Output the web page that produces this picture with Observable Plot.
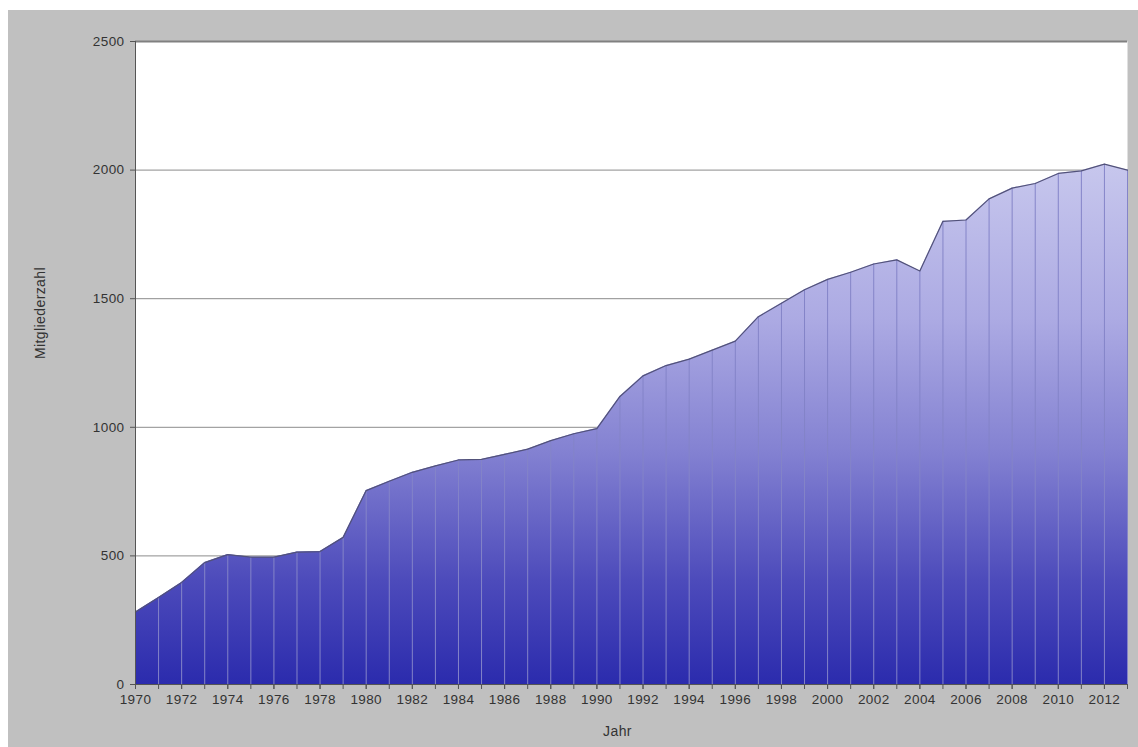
<!DOCTYPE html>
<html>
<head>
<meta charset="utf-8">
<script src="https://cdn.jsdelivr.net/npm/d3@7"></script>
<script src="https://cdn.jsdelivr.net/npm/@observablehq/plot@0.6"></script>
<style>
  html, body { margin: 0; padding: 0; background: #ffffff; }
  #wrap { padding: 10px 0 0 8px; width: 1130px; height: 737px; }
  svg { display: block; }
</style>
</head>
<body>
<div id="wrap"></div>
<script>
const years = [1970,1971,1972,1973,1974,1975,1976,1977,1978,1979,
               1980,1981,1982,1983,1984,1985,1986,1987,1988,1989,
               1990,1991,1992,1993,1994,1995,1996,1997,1998,1999,
               2000,2001,2002,2003,2004,2005,2006,2007,2008,2009,
               2010,2011,2012,2013];
const members = [282,338,397,474,505,495,495,515,517,572,
                 754,790,825,850,873,875,895,915,948,975,
                 995,1120,1200,1240,1265,1300,1335,1430,1482,1535,
                 1575,1603,1635,1651,1608,1801,1806,1888,1930,1948,
                 1987,1997,2023,2000];
const yTicks = [0,500,1000,1500,2000,2500];
const xLabelYears = [1970,1972,1974,1976,1978,1980,1982,1984,1986,1988,1990,
                     1992,1994,1996,1998,2000,2002,2004,2006,2008,2010,2012];
const yTitle = "Mitgliederzahl";
const xTitle = "Jahr";

const data = years.map((year, i) => ({year, n: members[i]}));

const chart = Plot.plot({
  width: 1130,
  height: 737,
  marginLeft: 127,
  marginRight: 11,
  marginTop: 31,
  marginBottom: 63,
  style: {background: "#c0c0c0", fontFamily: "Liberation Sans, Arial, sans-serif", fontSize: "13.5px", color: "#333333", letterSpacing: "0.4px"},
  x: {domain: [1970, 2013]},
  y: {domain: [0, 2500]},
  marks: [
    Plot.frame({fill: "#ffffff", stroke: null}),
    Plot.gridY(yTicks, {stroke: "#8c8c8c", strokeOpacity: 1, strokeWidth: 1}),
    Plot.ruleY([2500], {stroke: "#808080", strokeWidth: 2}),
    Plot.areaY(data, {x: "year", y: "n", fill: "url(#memberGrad)"}),
    Plot.ruleX(data, {x: "year", y1: 0, y2: "n", stroke: "#8484c8", strokeWidth: 1}),
    Plot.lineY(data, {x: "year", y: "n", stroke: "#52527a", strokeWidth: 1.2}),
    Plot.ruleY([0], {stroke: "#555555", strokeWidth: 1}),
    Plot.ruleX([1970], {stroke: "#555555", strokeWidth: 1}),
    Plot.axisY(yTicks, {tickSize: 5, tickPadding: 6, tickFormat: d => String(d), label: null, stroke: "#555555"}),
    Plot.axisX(years, {tickSize: 5, tickFormat: () => "", label: null, stroke: "#555555"}),
    Plot.axisX(xLabelYears, {tickSize: 5, tickPadding: 5, tickFormat: d => String(d), label: null, stroke: "#555555"}),
    Plot.text([yTitle], {frameAnchor: "left", dx: -95, dy: -4, rotate: -90, text: d => d, fill: "#333333", fontSize: 14, letterSpacing: "1px"}),
    Plot.text([xTitle], {frameAnchor: "bottom", dx: -14, dy: 51, text: d => d, fill: "#333333", fontSize: 14, letterSpacing: "1px"})
  ]
});

const defs = d3.select(chart).insert("defs", ":first-child");
const grad = defs.append("linearGradient")
  .attr("id", "memberGrad")
  .attr("x1", 0).attr("y1", 0).attr("x2", 0).attr("y2", 1);
grad.append("stop").attr("offset", "0%").attr("stop-color", "#c7c7ed");
grad.append("stop").attr("offset", "30%").attr("stop-color", "#acaae3");
grad.append("stop").attr("offset", "55%").attr("stop-color", "#8482d2");
grad.append("stop").attr("offset", "80%").attr("stop-color", "#4d4bbb");
grad.append("stop").attr("offset", "100%").attr("stop-color", "#2b2bad");

document.getElementById("wrap").appendChild(chart);
</script>
</body>
</html>
